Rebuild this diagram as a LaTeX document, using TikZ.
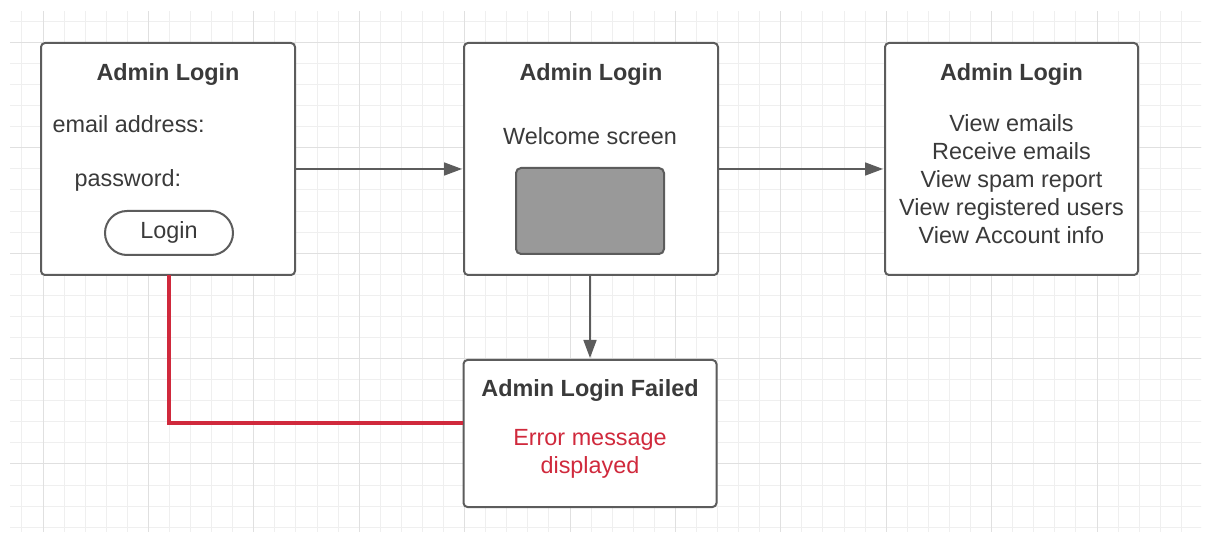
\documentclass[tikz,border=0pt]{standalone}
\usepackage{fontspec}
\setmainfont{Liberation Sans}
\usetikzlibrary{arrows.meta,shapes.misc}

\definecolor{gridminor}{HTML}{EFEFEF}
\definecolor{gridmajor}{HTML}{E0E0E0}
\definecolor{frame}{HTML}{5C5C5C}
\definecolor{ink}{HTML}{3A3A3A}
\definecolor{errred}{HTML}{D0293C}
\definecolor{screenfill}{HTML}{999999}

\tikzset{
  panel/.style={draw=frame, line width=2pt, fill=white, rounded corners=4pt,
    minimum width=#1, inner sep=0pt},
  title/.style={font=\fontsize{23.4}{28}\selectfont\bfseries, text=ink},
  body/.style={font=\fontsize{23.4}{28}\selectfont, text=ink},
  arr/.style={draw=frame, line width=1.6pt, -{Triangle[length=18pt,width=13pt]}},
  failline/.style={draw=errred, line width=4pt},
}

\begin{document}
\begin{tikzpicture}[x=1pt,y=-1pt]
\useasboundingbox (0,0) rectangle (1208,534);
\fill[white] (0,0) rectangle (1208,534);

% background grid
\begin{scope}
  \clip (10,12) rectangle (1201,531);
  \foreach \i in {-1,...,56} {
    \draw[gridminor, line width=1pt] ({43+21.08*\i},0) -- ({43+21.08*\i},534);
  }
  \foreach \j in {-1,...,24} {
    \draw[gridminor, line width=1pt] (0,{42.4+21.08*\j}) -- (1208,{42.4+21.08*\j});
  }
  \foreach \i in {0,...,11} {
    \draw[gridmajor, line width=1pt] ({43+105.4*\i},0) -- ({43+105.4*\i},534);
  }
  \foreach \j in {0,...,4} {
    \draw[gridmajor, line width=1pt] (0,{42.4+105.4*\j}) -- (1208,{42.4+105.4*\j});
  }
\end{scope}

% panels
\node[panel=254pt, minimum height=232pt] (login) at (168,159) {};
\node[panel=254pt, minimum height=232pt] (welcome) at (591,159) {};
\node[panel=253pt, minimum height=232pt] (menu) at (1011.5,159) {};
\node[panel=253pt, minimum height=147pt] (failed) at (590,433.5) {};

% login panel contents
\node[title] (logintitle) at (168,74.5) {Admin Login};
\node[body, anchor=west] (email) at (49,124) {email address:};
\node[body, anchor=west] (pass) at (71,180) {password:};
\node[draw=frame, line width=2pt, rounded rectangle, minimum width=128pt,
      minimum height=44pt, inner sep=0pt] (loginbtn) at (169,233) {};
\node[body] (logintext) at (169,232) {Login};

% welcome panel contents
\node[title] (welcometitle) at (591,74.5) {Admin Login};
\node[body] (welcometext) at (590,136) {Welcome screen};
\node[draw=frame, line width=2pt, fill=screenfill, rounded corners=5pt,
      minimum width=148pt, minimum height=86pt, inner sep=0pt] (screen) at (590,211) {};

% menu panel contents
\node[title] (menutitle) at (1011.5,74.5) {Admin Login};
\node[body, align=center] (menulist) at (1011.5,179.5) {View emails\\Receive emails\\View spam report\\View registered users\\View Account info};

% failure panel contents
\node[title] (failedtitle) at (590,391) {Admin Login Failed};
\node[body, align=center, text=errred] (failedtext) at (590,454) {Error message\\displayed};

% connector end points
\coordinate (loginout) at ([yshift=-10pt]login.east);
\coordinate (welcomein) at ([yshift=-10pt,xshift=-1pt]welcome.west);
\coordinate (welcomeout) at ([yshift=-10pt]welcome.east);
\coordinate (menuin) at ([yshift=-10pt,xshift=-1pt]menu.west);
\coordinate (welcomedown) at (screen.center |- welcome.south);
\coordinate (failedtop) at ([yshift=1pt]screen.center |- failed.north);
\coordinate (loginfoot) at ([yshift=1pt]loginbtn.center |- login.south);
\coordinate (failedin) at ([yshift=10pt]failed.west);

% connectors
\draw[arr] (loginout) -- (welcomein);
\draw[arr] (welcomeout) -- (menuin);
\draw[arr] (welcomedown) -- (failedtop);
\draw[failline] (loginfoot) -- (loginfoot |- failedin) -- (failedin);
\end{tikzpicture}
\end{document}
